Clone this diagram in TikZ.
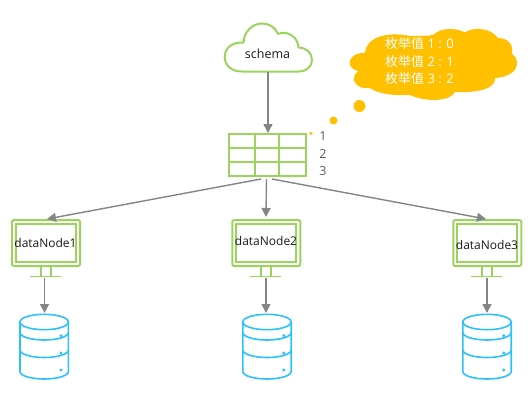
\documentclass[tikz,border=0pt]{standalone}
\usepackage{fontspec}
\setmainfont{Open Sans}
\newfontfamily\cjk{Noto Sans CJK SC}
\usetikzlibrary{arrows.meta}
\definecolor{grn}{HTML}{9BD45C}
\definecolor{blu}{HTML}{2BC0FF}
\definecolor{ylw}{HTML}{FFC000}
\definecolor{arr}{HTML}{858585}
\tikzset{
 box/.style={inner sep=0pt,outer sep=0pt,text=black!90,font=\fontsize{12}{14}\selectfont},
 gline/.style={draw=grn,line width=2pt},
 bline/.style={draw=blu,line width=1.6pt},
 link/.style={draw=arr,line width=1.4pt,-{Triangle[length=9pt,width=9pt]}},
 dotty/.style={fill=ylw,draw=none},
 rowlabel/.style={inner sep=0pt,text=black!65,font=\fontsize{12.5}{14}\selectfont},
 buble/.style={inner sep=0pt,text=white,font=\fontsize{13}{17.3}\selectfont,align=left}
}
\newcommand{\monitor}[1]{% left x
 \draw[gline,rounded corners=2pt] (#1,220) rectangle ++(68,46);
 \draw[gline] (#1+4,224) rectangle ++(60,38);
 \draw[gline] (#1+28.5,266) -- ++(0,10.5) (#1+39,266) -- ++(0,10.5);
 \draw[gline,line width=1.4pt] (#1+18,276.7) -- ++(31,0);
}
\newcommand{\dbcyl}[1]{%
 \draw[bline] (#1,322) -- (#1,371.5) arc[start angle=180,end angle=0,x radius=24.2,y radius=7.5] -- (#1+48.4,322);
 \draw[bline] (#1+24.2,322) ellipse[x radius=24.2,y radius=7.7];
 \draw[bline] (#1,332.5) arc[start angle=180,end angle=0,x radius=24.2,y radius=7.5];
 \draw[bline] (#1,350) arc[start angle=180,end angle=0,x radius=24.2,y radius=7.5];
 \fill[blu] (#1+41,335.7) circle[radius=1.7] (#1+41,353) circle[radius=1.7] (#1+41,370) circle[radius=1.7];
}
\begin{document}
\begin{tikzpicture}[x=1pt,y=-1pt]
\useasboundingbox (0,0) rectangle (528,408);
% cloud
\draw[gline] (242,71.5)
  .. controls (231,71.5) and (224.7,65) .. (224.7,57)
  .. controls (224.7,48) and (232,42) .. (243.5,42.5)
  .. controls (244,32) and (252,23.5) .. (262,23.5)
  .. controls (269,23.5) and (275,27) .. (278,33.8)
  .. controls (289,30) and (298,38) .. (298.5,47.5)
  .. controls (307,48) and (312,53) .. (312,60)
  .. controls (312,67) and (306,71.5) .. (299,71.5) -- cycle;
\node[box,minimum width=89pt,minimum height=49pt] (schema) at (268,47.5) {};
\node[box,font=\fontsize{12.5}{14}\selectfont] (schemat) at (267.5,54) {schema};
% bubble
\fill[ylw] (365,52.7)
  .. controls (366,38) and (386,31) .. (410,36)
  .. controls (416,36) and (428,36) .. (433,35)
  .. controls (440,28) and (455,27) .. (465,32.5)
  .. controls (472,27) and (490,27) .. (498,38)
  .. controls (505,38) and (514,42) .. (512,54)
  .. controls (518,57) and (519,66) .. (513,72)
  .. controls (508,76) and (500,78) .. (495,78)
  .. controls (496,88) and (480,93) .. (455,92)
  .. controls (450,102) and (425,102) .. (410,95)
  .. controls (395,96) and (378,94) .. (370,88)
  .. controls (358,90) and (348,80) .. (358,71)
  .. controls (345,68) and (347,53) .. (365,52.7) -- cycle;
\node[buble,anchor=north west] (note) at (385,37.5) {{\cjk 枚举值} 1 : 0\\{\cjk 枚举值} 2 : 1\\{\cjk 枚举值} 3 : 2};
\fill[dotty] (359.5,106) circle[radius=6];
\fill[dotty] (333.5,120.5) circle[radius=4];
\fill[dotty] (311,133.3) circle[radius=1.8];
% table
\node[box,minimum width=77pt,minimum height=42.5pt,gline,anchor=north west] (tbl) at (228.5,133.5) {};
\draw[gline] (254.7,133.5) -- (254.7,176) (279.3,133.5) -- (279.3,176)
  (228.5,148.3) -- (305.5,148.3) (228.5,162.3) -- (305.5,162.3);
\node[rowlabel] (r1) at (323,136.5) {1};
\node[rowlabel] (r2) at (323,154) {2};
\node[rowlabel] (r3) at (323,171) {3};
% monitors
\monitor{12}
\monitor{232.3}
\monitor{453.3}
\node[box,minimum width=68pt,minimum height=46pt] (mon1) at (45.5,243) {dataNode1};
\node[box,minimum width=68pt,minimum height=46pt] (mon2) at (266,241) {dataNode2};
\node[box,minimum width=68pt,minimum height=46pt] (mon3) at (487,245) {dataNode3};
\coordinate (st1) at (44.5,277.5);
\coordinate (st2) at (266,277.5);
\coordinate (st3) at (487,277.5);
% cylinders
\dbcyl{20}
\dbcyl{242.8}
\dbcyl{462.8}
\node[box,minimum width=48pt,minimum height=65pt,anchor=north] (db1) at (44.5,313) {};
\node[box,minimum width=48pt,minimum height=65pt,anchor=north] (db2) at (266,313) {};
\node[box,minimum width=48pt,minimum height=65pt,anchor=north] (db3) at (487,313) {};
% connectors
\draw[link] (schema.south) -- (268,133);
\coordinate (tl) at (261,179); \coordinate (tc) at (266.5,179); \coordinate (tr) at (272,179);
\coordinate (a1) at (47,219); \coordinate (a2) at (266,217); \coordinate (a3) at (486,219);
\draw[link] (tl) -- (a1);
\draw[link] (tc) -- (a2);
\draw[link] (tr) -- (a3);
\draw[link] (st1) -- (db1.north);
\draw[link] (st2) -- (db2.north);
\draw[link] (st3) -- (db3.north);
\end{tikzpicture}
\end{document}
